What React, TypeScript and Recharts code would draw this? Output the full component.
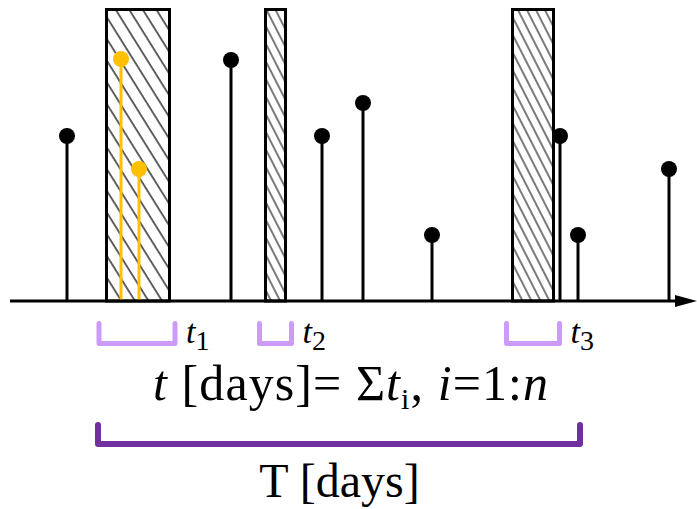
import React from "react";
import { Bar, ComposedChart, ReferenceArea, ReferenceLine, XAxis, YAxis } from "recharts";

// x: day on the time line, y: measured value (arbitrary units)
const stemDays = [57, 221, 312, 353, 422, 550, 568, 659];
const stemValues = [165, 241, 165, 198, 66, 165, 66, 132];
const insideDays = [111, 129];
const insideValues = [242, 132];

// hatched periods
const gapStart = [96.5, 255.5, 502.5];
const gapEnd = [159.5, 275.5, 543.5];
const gapTop = 291.5;
const gapPattern = ["hatchWide", "hatchNarrow", "hatchNarrow"];

// t_i spans and the total T span
const spanStart = [89, 249.5, 496.5];
const spanEnd = [165, 281.5, 549.5];
const spanLabels = ["1", "2", "3"];
const totalSpan = [88, 570];

const serif = "'Liberation Serif', 'Times New Roman', serif";

const rows = [
  ...stemDays.map((day, i) => ({ day, value: stemValues[i], color: "#000000" })),
  ...insideDays.map((day, i) => ({ day, value: insideValues[i], color: "#FFC000" })),
];

const Stem = (props: any) => {
  const { x, y, width, height, payload } = props;
  const cx = x + width / 2;
  return (
    <g>
      <line x1={cx} x2={cx} y1={y} y2={y + height} stroke={payload.color} strokeWidth={3} />
      <circle cx={cx} cy={y} r={8} fill={payload.color} />
    </g>
  );
};

const Axis = (props: any) => {
  const { x1, y1, x2 } = props;
  return (
    <g>
      <line x1={x1} x2={x2 - 18} y1={y1} y2={y1} stroke="#000" strokeWidth={3} />
      <polygon points={`${x2},${y1} ${x2 - 22},${y1 - 6} ${x2 - 22},${y1 + 6}`} fill="#000" />
    </g>
  );
};

const SmallBracket = (props: any) => {
  const { x, y, width, height, sub } = props;
  return (
    <g>
      <path
        d={`M${x},${y}V${y + height}H${x + width}V${y}`}
        fill="none"
        stroke="#CC9BFA"
        strokeWidth={5}
        strokeLinecap="round"
        strokeLinejoin="round"
      />
      <text x={x + width + 11} y={y + height - 1} fontFamily={serif} fontSize={34} fill="#000">
        <tspan fontStyle="italic">t</tspan>
        <tspan fontSize={28} dy={7}>{sub}</tspan>
      </text>
    </g>
  );
};

const BigBracket = (props: any) => {
  const { x, y, width, height } = props;
  const cx = x + width / 2;
  return (
    <g>
      <path
        d={`M${x},${y}V${y + height}H${x + width}V${y}`}
        fill="none"
        stroke="#7030A0"
        strokeWidth={6}
        strokeLinecap="round"
        strokeLinejoin="round"
      />
      <text
        x={cx + 11.5}
        y={y - 25}
        textAnchor="middle"
        fontFamily={serif}
        fontSize={50}
        fill="#000"
        textLength={395}
        lengthAdjust="spacing"
      >
        <tspan fontStyle="italic">t</tspan>
        <tspan> [days]= Σ</tspan>
        <tspan fontStyle="italic">t</tspan>
        <tspan fontSize={30} dy={9}>i</tspan>
        <tspan dy={-9}>, </tspan>
        <tspan fontStyle="italic">i</tspan>
        <tspan>=1:</tspan>
        <tspan fontStyle="italic">n</tspan>
      </text>
      <text x={cx + 0.5} y={y + height + 53} textAnchor="middle" fontFamily={serif} fontSize={48} fill="#000">
        T [days]
      </text>
    </g>
  );
};

export default function App() {
  return (
    <div style={{ position: "absolute", left: 0, top: 0, background: "#fff" }}>
      <ComposedChart width={697} height={509} data={rows} margin={{ top: 8, right: 0, bottom: 0, left: 10 }}>
        <defs>
          <pattern id="hatchWide" patternUnits="userSpaceOnUse" width={11.5} height={40} patternTransform="rotate(-32)">
            <rect width={11.5} height={40} fill="#fff" />
            <line x1={1} x2={1} y1={0} y2={40} stroke="#222" strokeWidth={1.4} />
          </pattern>
          <pattern id="hatchNarrow" patternUnits="userSpaceOnUse" width={8} height={40} patternTransform="rotate(-27)">
            <rect width={8} height={40} fill="#fff" />
            <line x1={1} x2={1} y1={0} y2={40} stroke="#222" strokeWidth={1.2} />
          </pattern>
        </defs>
        <XAxis type="number" dataKey="day" domain={[0, 687]} hide />
        <YAxis type="number" domain={[-208, 293]} hide />
        {gapStart.map((s, i) => (
          <ReferenceArea
            key={`gap${i}`}
            x1={s}
            x2={gapEnd[i]}
            y1={0}
            y2={gapTop}
            fill={`url(#${gapPattern[i]})`}
            fillOpacity={1}
            stroke="#000"
            strokeWidth={3}
          />
        ))}
        <ReferenceLine y={0} shape={<Axis />} />
        {spanStart.map((s, i) => (
          <ReferenceArea
            key={`span${i}`}
            x1={s}
            x2={spanEnd[i]}
            y1={-22.5}
            y2={-42.5}
            shape={(p: any) => <SmallBracket {...p} sub={spanLabels[i]} />}
          />
        ))}
        <ReferenceArea
          x1={totalSpan[0]}
          x2={totalSpan[1]}
          y1={-124}
          y2={-143}
          shape={(p: any) => <BigBracket {...p} />}
        />
        <Bar dataKey="value" barSize={16} shape={<Stem />} isAnimationActive={false} />
      </ComposedChart>
    </div>
  );
}
